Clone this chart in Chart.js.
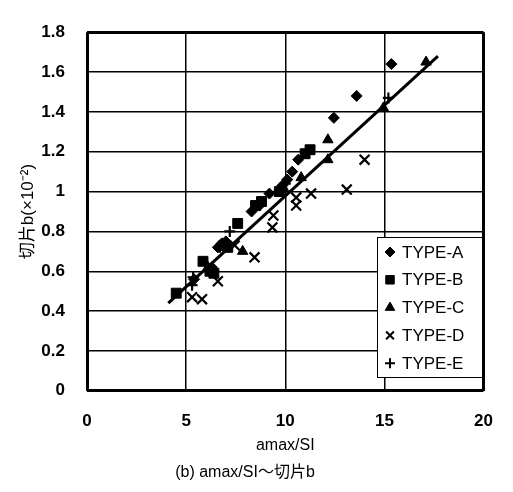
<!DOCTYPE html>
<html>
<head>
<meta charset="utf-8">
<script src="https://cdn.jsdelivr.net/npm/chart.js@4.4.1/dist/chart.umd.min.js"></script>
<style>
  html, body { margin: 0; padding: 0; background: #fff; }
  #wrap { width: 513px; height: 492px; }
</style>
</head>
<body>
<div id="wrap"><canvas id="graphB" width="513" height="492"></canvas></div>
<script>
// measured points, amax/SI vs 切片b (x10^-2)
const typeNames = ["TYPE-A", "TYPE-B", "TYPE-C", "TYPE-D", "TYPE-E"];

const typeAX = [15.35, 13.6, 12.45, 10.65, 10.35, 9.85, 10.1, 9.2, 8.7, 8.3, 7.0, 6.8, 6.6, 6.3, 5.4];
const typeAY = [1.64, 1.48, 1.37, 1.16, 1.10, 1.03, 1.06, 0.99, 0.93, 0.90, 0.75, 0.74, 0.72, 0.62, 0.56];

const typeBX = [4.5, 5.85, 6.2, 6.4, 6.9, 7.1, 7.6, 8.5, 8.8, 9.7, 11.0, 11.25];
const typeBY = [0.49, 0.65, 0.60, 0.59, 0.73, 0.72, 0.84, 0.93, 0.95, 1.00, 1.19, 1.21];

const typeCX = [17.1, 14.95, 12.15, 12.15, 10.8, 9.9, 7.85, 6.1];
const typeCY = [1.65, 1.42, 1.26, 1.16, 1.07, 1.02, 0.70, 0.62];

const typeDX = [14.0, 13.1, 11.3, 10.55, 10.55, 9.4, 9.35, 8.45, 7.45, 6.6, 5.3, 5.8];
const typeDY = [1.16, 1.01, 0.99, 0.97, 0.93, 0.88, 0.82, 0.67, 0.73, 0.55, 0.47, 0.46];

const typeEX = [15.2, 10.0, 7.2, 6.7, 5.35, 5.3];
const typeEY = [1.47, 1.04, 0.80, 0.72, 0.57, 0.53];

// fitted line end points
const fitX = [4.1, 17.7];
const fitY = [0.44, 1.68];

const FONT = "'Liberation Sans', 'Noto Sans CJK JP', sans-serif";

function toPoints(xs, ys) {
    return xs.map((x, i) => ({ x: x, y: ys[i] }));
}

const markers = [
    { style: "rectRot", radius: 5.5, legendRadius: 5 },
    { style: "rect", radius: 7, legendRadius: 6 },
    { style: "triangle", radius: 6, legendRadius: 5.5 },
    { style: "crossRot", radius: 7, legendRadius: 5.5 },
    { style: "cross", radius: 5.5, legendRadius: 5 }
];

const series = [[typeAX, typeAY], [typeBX, typeBY], [typeCX, typeCY], [typeDX, typeDY], [typeEX, typeEY]];

const datasets = series.map((s, i) => ({
    label: typeNames[i],
    data: toPoints(s[0], s[1]),
    pointStyle: markers[i].style,
    pointRadius: markers[i].radius,
    backgroundColor: "#000",
    borderColor: "#000",
    borderWidth: (i >= 3) ? 2.2 : 1,
    showLine: false
}));

datasets.push({
    label: "fit",
    data: toPoints(fitX, fitY),
    showLine: true,
    pointRadius: 0,
    borderColor: "#000",
    borderWidth: 3
});

// legend box drawn inside the plot area
const boxLegend = {
    id: "boxLegend",
    afterDraw(chart) {
        const ctx = chart.ctx;
        const x0 = 377, y0 = 237, w = 105, h = 140;
        ctx.save();
        ctx.fillStyle = "#fff";
        ctx.fillRect(x0, y0, w, h);
        ctx.strokeStyle = "#000";
        ctx.lineWidth = 1;
        ctx.strokeRect(x0 + 0.5, y0 + 0.5, w, h);
        ctx.font = "17px " + FONT;
        ctx.textBaseline = "middle";
        ctx.fillStyle = "#000";
        typeNames.forEach((name, i) => {
            const cy = y0 + 15 + i * 27.8;
            ctx.lineWidth = i >= 3 ? 2 : 1;
            Chart.helpers.drawPoint(ctx, {
                pointStyle: markers[i].style,
                radius: markers[i].legendRadius,
                borderWidth: i >= 3 ? 2 : 1
            }, x0 + 13, cy);
            ctx.fillText(name, x0 + 25, cy + 1);
        });
        ctx.restore();
    }
};

const edge = (last) => (c) => (c.tick && (c.tick.value === 0 || Math.abs(c.tick.value - last) < 1e-6)) ? 3 : 1.5;

new Chart(document.getElementById("graphB").getContext("2d"), {
    type: "scatter",
    data: { datasets: datasets },
    options: {
        responsive: false,
        animation: false,
        layout: { padding: { top: 10, right: 23, left: 0, bottom: 0 } },
        plugins: {
            legend: { display: false },
            tooltip: { enabled: false },
            title: {
                display: true,
                position: "bottom",
                text: "(b) amax/SI～切片b",
                color: "#000",
                font: { family: FONT, size: 16, weight: "normal" },
                padding: { top: 0, bottom: 10 }
            }
        },
        scales: {
            x: {
                min: 0, max: 20,
                ticks: { stepSize: 5, color: "#000", padding: 20, font: { family: FONT, size: 17, weight: "bold" } },
                grid: { color: "#000", lineWidth: edge(20), drawTicks: false },
                border: { display: false },
                title: {
                    display: true, text: "amax/SI", color: "#000",
                    font: { family: FONT, size: 16 },
                    padding: { top: 0, bottom: 8 }
                },
                afterFit(scale) { scale.height = 72; }
            },
            y: {
                min: 0, max: 1.8,
                ticks: {
                    stepSize: 0.2, color: "#000", padding: 22,
                    font: { family: FONT, size: 17, weight: "bold" },
                    callback: (v) => String(parseFloat(v.toFixed(1)))
                },
                grid: { color: "#000", lineWidth: edge(1.8), drawTicks: false },
                border: { display: false },
                title: {
                    display: true, text: "切片b(×10⁻²)", color: "#000",
                    font: { family: FONT, size: 17 },
                    padding: { top: 18, bottom: 0 }
                },
                afterFit(scale) { scale.width = 87; }
            }
        }
    },
    plugins: [boxLegend]
});
</script>
</body>
</html>
